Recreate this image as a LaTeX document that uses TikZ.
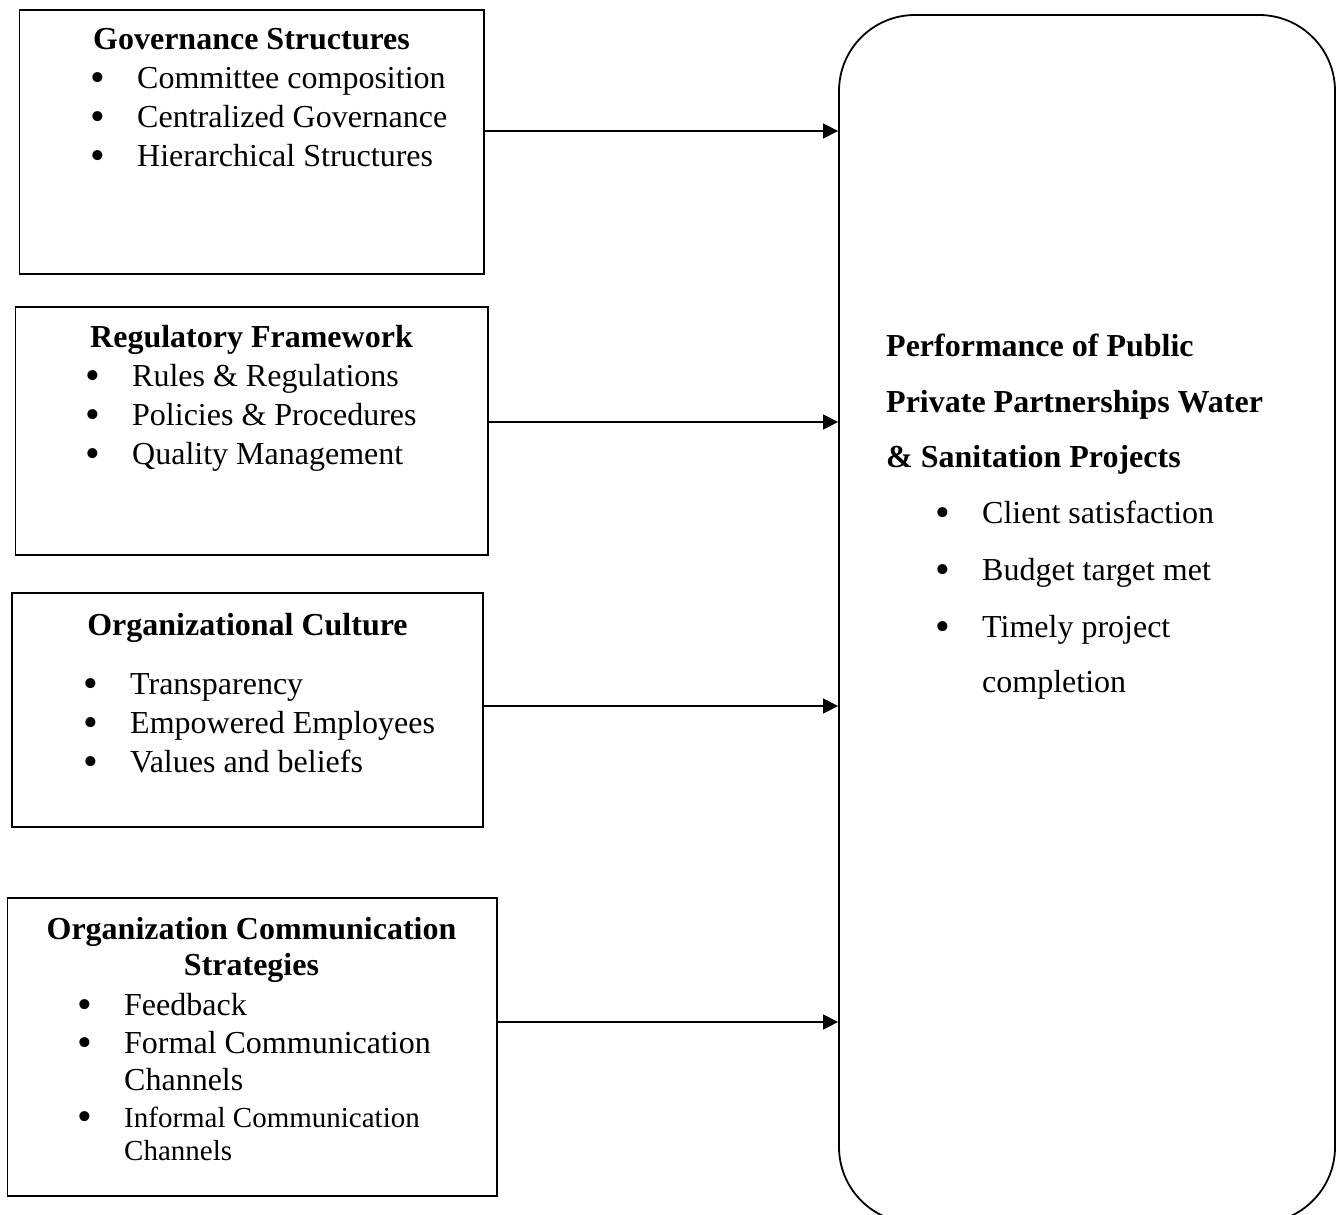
\documentclass[tikz,border=0pt]{standalone}
\usepackage{fontspec}
\setmainfont{Liberation Serif}
\usetikzlibrary{arrows.meta}
\newcommand{\blt}{{\fontsize{42}{42}\selectfont\raisebox{-3pt}{•}}}
\newcommand{\bitem}[1]{\makebox[47pt][l]{\blt}#1}
\begin{document}
\begin{tikzpicture}[x=1pt,y=-1pt,
  box/.style={draw, line width=1.8pt, inner sep=0pt},
  perfbox/.style={draw, line width=1.8pt, rounded corners=76pt, inner sep=0pt},
  arr/.style={line width=1.3pt, -{Triangle[length=15pt,width=15pt]}},
  txt/.style={inner sep=0pt, font=\fontsize{32}{39}\selectfont},
  ttl/.style={inner sep=0pt, anchor=base, font=\fontsize{32}{39}\selectfont\bfseries},
  ttlw/.style={inner sep=0pt, anchor=base west, font=\fontsize{32}{39}\selectfont\bfseries},
  itm/.style={txt, anchor=base west},
  small/.style={inner sep=0pt, anchor=base west, font=\fontsize{29}{33}\selectfont}]
\useasboundingbox (0,0) rectangle (1337,1214);
\begin{scope}
\clip (0,0) rectangle (1337,1214);
% boxes
\node[box, minimum width=464.5pt, minimum height=264pt] (box1) at (251.75,142) {};
\node[box, minimum width=472.5pt, minimum height=248pt] (box2) at (251.75,431) {};
\node[box, minimum width=471pt, minimum height=234pt] (box3) at (247.5,710) {};
\node[box, minimum width=489.5pt, minimum height=298pt] (box4) at (252.25,1047) {};
\node[perfbox, minimum width=496pt, minimum height=1208pt] (perf) at (1087,619) {};
\end{scope}
% box 1
\node[ttl] (t1) at (251.5,50) {Governance Structures};
\node[itm] (t1a) at (90,89) {\bitem{Committee composition}};
\node[itm] (t1b) at (90,128) {\bitem{Centralized Governance}};
\node[itm] (t1c) at (90,167) {\bitem{Hierarchical Structures}};
% box 2
\node[ttl] (t2) at (251.5,347) {Regulatory Framework};
\node[itm] (t2a) at (85,386) {\bitem{Rules \& Regulations}};
\node[itm] (t2b) at (85,425) {\bitem{Policies \& Procedures}};
\node[itm] (t2c) at (85,464) {\bitem{Quality Management}};
% box 3
\node[ttl] (t3) at (247.5,635) {Organizational Culture};
\node[itm] (t3a) at (83,694) {\bitem{Transparency}};
\node[itm] (t3b) at (83,733) {\bitem{Empowered Employees}};
\node[itm] (t3c) at (83,772) {\bitem{Values and beliefs}};
% box 4
\node[ttl] (t4) at (251.5,939) {Organization Communication};
\node[ttl] (t4s) at (251.5,975) {Strategies};
\node[itm] (t4a) at (77,1015) {\bitem{Feedback}};
\node[itm] (t4b) at (77,1053) {\bitem{Formal Communication}};
\node[itm] (t4b2) at (124,1090) {Channels};
\node[itm] (t4c) at (77,1127) {\makebox[47pt][l]{\blt}};
\node[small] (t4c1) at (124,1127) {Informal Communication};
\node[small] (t4c2) at (124,1160) {Channels};
% performance
\node[ttlw] (p1) at (886,356) {Performance of Public};
\node[ttlw] (p2) at (886,412) {Private Partnerships Water};
\node[ttlw] (p3) at (886,467) {\& Sanitation Projects};
\node[itm] (pa) at (935,523) {\bitem{Client satisfaction}};
\node[itm] (pb) at (935,580) {\bitem{Budget target met}};
\node[itm] (pc) at (935,637) {\bitem{Timely project}};
\node[itm] (pc2) at (982,692) {completion};
% arrows
\draw[arr] ([yshift=11pt]box1.east) -- ([yshift=11pt]box1.east -| perf.west);
\draw[arr] ([yshift=9pt]box2.east) -- ([yshift=9pt]box2.east -| perf.west);
\draw[arr] ([yshift=4pt]box3.east) -- ([yshift=4pt]box3.east -| perf.west);
\draw[arr] ([yshift=25pt]box4.east) -- ([yshift=25pt]box4.east -| perf.west);
\end{tikzpicture}
\end{document}
